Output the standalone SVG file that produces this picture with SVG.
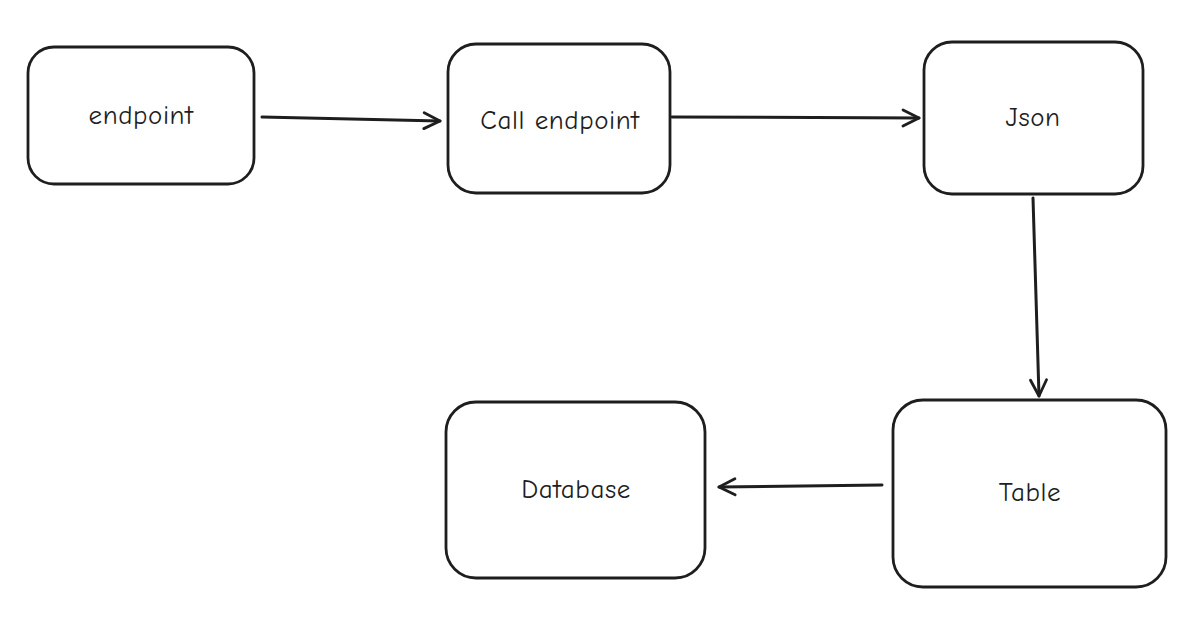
<svg xmlns="http://www.w3.org/2000/svg" width="1203" height="622" viewBox="0 0 1203 622">
<style>
.box{fill:#fff;stroke:#1e1e1e;stroke-width:2.8;stroke-linejoin:round}
.lbl{font-family:"Comic Neue","Liberation Sans","DejaVu Sans",sans-serif;font-size:27px;letter-spacing:0.6px;fill:#1e1e1e;text-anchor:middle;dominant-baseline:central}
.conn{fill:none;stroke:#1e1e1e;stroke-width:3;stroke-linecap:round}
</style>
<defs>
<marker id="arr" viewBox="0 0 20 20" refX="18" refY="10" markerWidth="20" markerHeight="20" markerUnits="userSpaceOnUse" orient="auto">
<path d="M2 2 L18 10 L2 18" fill="none" stroke="#1e1e1e" stroke-width="2.8" stroke-linecap="round" stroke-linejoin="round"/>
</marker>
</defs>
<g id="connectors">
<path class="conn" d="M262 117 L440 121" marker-end="url(#arr)"/>
<path class="conn" d="M672 117 L919 118" marker-end="url(#arr)"/>
<path class="conn" d="M1033 198 L1039 396" marker-end="url(#arr)"/>
<path class="conn" d="M882 485 L719 487" marker-end="url(#arr)"/>
</g>
<g id="node-endpoint">
<rect class="box" x="28" y="47" width="226" height="137" rx="26"/>
<text class="lbl" x="141" y="115">endpoint</text>
</g>
<g id="node-call">
<rect class="box" x="448" y="44" width="222" height="149" rx="28"/>
<text class="lbl" x="560" y="120">Call endpoint</text>
</g>
<g id="node-json">
<rect class="box" x="924" y="42" width="219" height="152" rx="28"/>
<text class="lbl" x="1033" y="117">Json</text>
</g>
<g id="node-table">
<rect class="box" x="893" y="400" width="273" height="187" rx="30"/>
<text class="lbl" x="1030" y="492">Table</text>
</g>
<g id="node-database">
<rect class="box" x="446" y="402" width="259" height="176" rx="30"/>
<text class="lbl" x="576" y="489">Database</text>
</g>
</svg>
